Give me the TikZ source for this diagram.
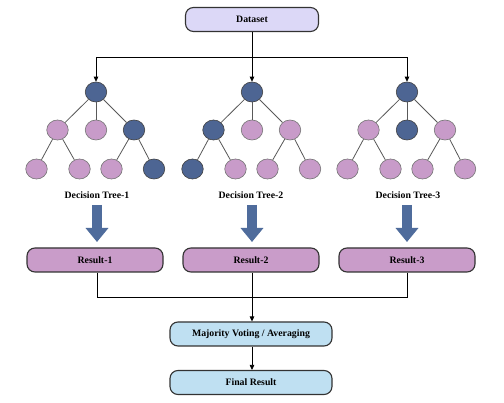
\documentclass[tikz,border=0pt]{standalone}
\usepackage{fontspec}
\setmainfont{Liberation Serif}
\usetikzlibrary{shapes.geometric,arrows.meta}
\definecolor{darkn}{HTML}{4D6593}
\definecolor{pinkn}{HTML}{C89BC9}
\definecolor{resfill}{HTML}{C99CC9}
\definecolor{datafill}{HTML}{DCD8F7}
\definecolor{bluefill}{HTML}{BFE0F2}
\definecolor{fatcol}{HTML}{4F6C9C}
\tikzset{
  dn/.style={ellipse,draw=black!75,line width=0.6pt,fill=darkn,minimum width=21.5pt,minimum height=20pt,inner sep=0pt},
  pn/.style={ellipse,draw=black!55,line width=0.6pt,fill=pinkn,minimum width=21.5pt,minimum height=20pt,inner sep=0pt},
  edge/.style={draw=black!65,line width=0.8pt},
  box/.style={rounded corners=8pt,draw=black!80,line width=1.1pt,minimum height=24pt,inner sep=0pt,font=\bfseries\fontsize{9.8}{11}\selectfont},
  lab/.style={font=\bfseries\fontsize{9.8}{11}\selectfont,inner sep=1pt},
  conn/.style={draw=black,line width=0.8pt},
  arr/.style={conn,-{Triangle[length=5pt,width=4.5pt]}},
  fat/.style={draw=fatcol,line width=10pt,-{Triangle[length=14pt,width=22pt]}}
}
\newcommand{\drawtree}[9]{%
  \node[dn] (#1r) at (#2,92) {};
  \node[#3] (#1a) at ({#2-38.5},130) {};
  \node[#4] (#1b) at (#2,130) {};
  \node[#5] (#1c) at ({#2+38},130) {};
  \node[#6] (#1d) at ({#2-59.5},169) {};
  \node[#7] (#1e) at ({#2-16.5},169) {};
  \node[#8] (#1f) at ({#2+15.5},169) {};
  \node[#9] (#1g) at ({#2+58},169) {};
  \draw[edge] (#1r) -- (#1a);
  \draw[edge] (#1r) -- (#1b);
  \draw[edge] (#1r) -- (#1c);
  \draw[edge] (#1a) -- (#1d);
  \draw[edge] (#1a) -- (#1e);
  \draw[edge] (#1c) -- (#1f);
  \draw[edge] (#1c) -- (#1g);
}
\begin{document}
\begin{tikzpicture}[x=1pt,y=-1pt]
\useasboundingbox[fill=white] (0,0) rectangle (504,403);
% top
\node[box,fill=datafill,minimum width=133pt] (data) at (252,19.5) {Dataset};
% trees
\drawtree{p}{96}{pn}{pn}{dn}{pn}{pn}{pn}{dn}
\drawtree{q}{252}{dn}{pn}{pn}{dn}{pn}{pn}{pn}
\drawtree{s}{407}{pn}{dn}{pn}{pn}{pn}{pn}{pn}
% split
\coordinate (split) at (252,57);
\draw[conn] (data.south) -- (split);
\draw[arr] (split) -- (qr.north);
\draw[arr] (split) -| (pr.north);
\draw[arr] (split) -| (sr.north);
% labels
\node[lab] (l1) at (97,195) {Decision Tree-1};
\node[lab] (l2) at (251,195) {Decision Tree-2};
\node[lab] (l3) at (408,195) {Decision Tree-3};
% results
\node[box,fill=resfill,minimum width=136pt] (r1) at (95,260) {Result-1};
\node[box,fill=resfill,minimum width=136pt] (r2) at (251,260) {Result-2};
\node[box,fill=resfill,minimum width=136pt] (r3) at (407,260) {Result-3};
\draw[fat] (97,205) -- (97,242);
\draw[fat] (252,205) -- (252,242);
\draw[fat] (407,205) -- (407,242);
% merge
\coordinate (merge) at (252,297);
\draw[conn] ([xshift=2pt]r1.south) |- (merge);
\draw[conn] (r3.south) |- (merge);
\node[box,fill=bluefill,minimum width=162pt] (maj) at (251,334) {Majority Voting / Averaging};
\node[box,fill=bluefill,minimum width=162pt] (fin) at (251,382.5) {Final Result};
\draw[arr] ([xshift=1pt]r2.south) -- ([xshift=1pt]maj.north);
\draw[arr] ([xshift=1pt]maj.south) -- ([xshift=1pt]fin.north);
\end{tikzpicture}
\end{document}
